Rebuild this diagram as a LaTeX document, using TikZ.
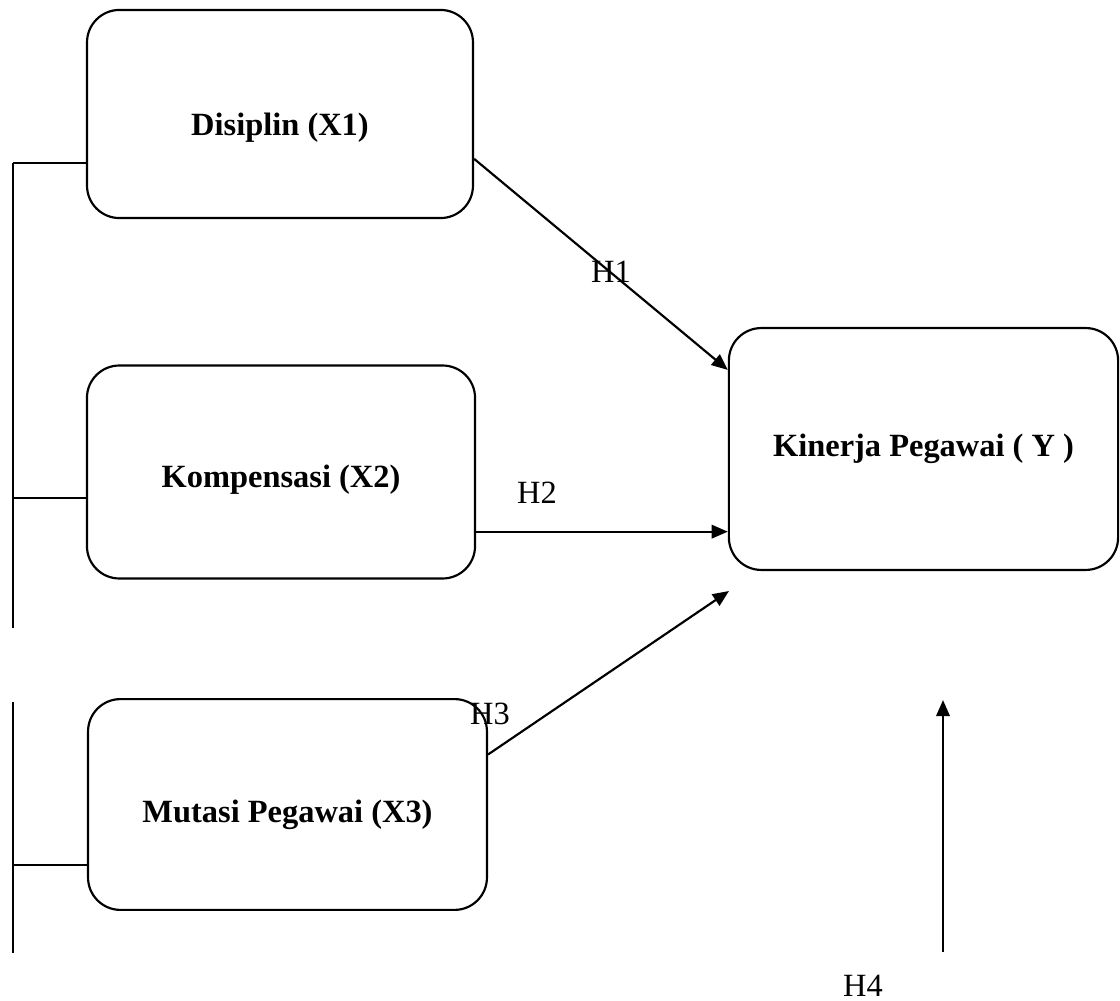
\documentclass[tikz,border=0pt]{standalone}
\usepackage{fontspec}
\setmainfont{Liberation Serif}
\usetikzlibrary{arrows.meta,positioning,calc}
\tikzset{
  % Base styles
  diagram base/.style={
    >={Triangle[length=6pt,width=5pt]},
    x=0.37pt, y=-0.37pt,
    line width=0.8pt,
    every node/.style={font=\fontsize{12}{14}\selectfont},
  },
  % Variable boxes
  var node/.style={rectangle, draw, line width=0.8pt, rounded corners=12pt, inner sep=2pt, font=\fontsize{12}{14}\selectfont\bfseries},
  % Hypothesis labels
  hyp label/.style={inner sep=0pt},
}

\begin{document}
\begin{tikzpicture}[diagram base]
\useasboundingbox (0,0) rectangle (1120,1001);

% Independent variables (left column)
\node[var node, minimum width=142.8pt, minimum height=77pt, text height=18.7pt, text depth=2.6pt] (X1) at (280,114) {Disiplin (X1)};
\node[var node, minimum width=143.6pt, minimum height=78.8pt, text height=14.3pt, text depth=2.6pt] (X2) at (281,472) {Kompensasi (X2)};
\node[var node, minimum width=147.6pt, minimum height=78pt, text height=16.1pt, text depth=2.6pt] (X3) at (287.5,804.5) {Mutasi Pegawai (X3)};

% Dependent variable
\node[var node, minimum width=144pt, minimum height=89.5pt] (Y) at (923.5,449) {Kinerja Pegawai ( Y )};

% Left bracket joining X1, X2, X3
\coordinate (t1) at (13,163);
\coordinate (t2) at (13,498);
\coordinate (t3) at (13,865);
\coordinate (bus a) at (13,628);
\coordinate (bus b) at (13,702);
\coordinate (bus c) at (13,953);
\draw (t1) -- (bus a);
\draw (bus b) -- (bus c);
\draw (t1) -- (t1 -| X1.west);
\draw (t2) -- (t2 -| X2.west);
\draw (t3) -- (t3 -| X3.west);

% Free arrow ends
\coordinate (h3 end) at (729,591);
\coordinate (h4 start) at (943,952);
\coordinate (h4 end) at (943,700);

% Hypothesis arrows
\draw[->] (X1.-13) -- (Y.158);
\draw[->] (X2.-17.5) -- (X2.-17.5 -| Y.west);
\draw[->] (X3.14.7) -- (h3 end);
\draw[->] (h4 start) -- (h4 end);

% Hypothesis labels
\node[hyp label] (H1) at (611,272) {H1};
\node[hyp label] (H2) at (537,493) {H2};
\node[hyp label] (H3) at (490,714) {H3};
\node[hyp label] (H4) at (863,986) {H4};
\end{tikzpicture}
\end{document}
